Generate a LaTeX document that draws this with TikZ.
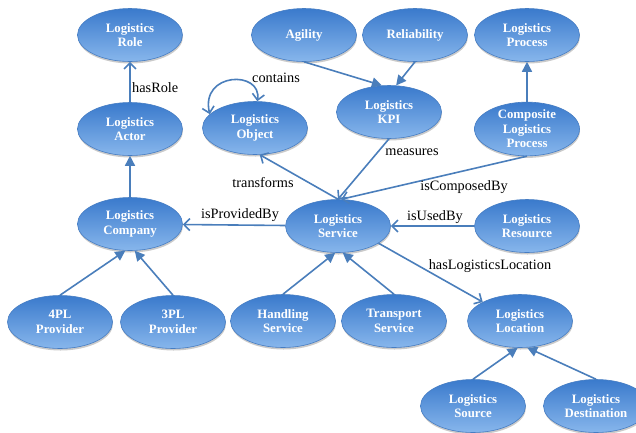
\documentclass[tikz,border=0pt]{standalone}
\usepackage{fontspec}
\setmainfont{Liberation Serif}
\usetikzlibrary{shapes.geometric,arrows.meta,shadows}
\definecolor{edgeblue}{RGB}{74,126,187}
\definecolor{topblue}{RGB}{58,122,204}
\definecolor{midblue}{RGB}{82,146,218}
\definecolor{botblue}{RGB}{135,182,236}
\definecolor{rimblue}{RGB}{70,125,195}
\tikzset{
  concept/.style={ellipse, minimum width=105pt, minimum height=53pt, inner sep=0pt,
    top color=topblue, middle color=midblue, bottom color=botblue,
    draw=rimblue, line width=0.6pt,
    drop shadow={shadow xshift=0.5pt, shadow yshift=-2pt, opacity=0.35, fill=black!60},
    text=white, align=center,
    font=\bfseries\fontsize{12.8}{14.5}\selectfont},
  lbl/.style={font=\fontsize{14.3}{16}\selectfont, text=black, inner sep=0pt},
  sub/.style={draw=edgeblue, line width=1.6pt, -{Triangle[length=10pt,width=10pt]}},
  prop/.style={draw=edgeblue, line width=1.6pt, -{Straight Barb[length=6pt,width=12pt]}},
  propboth/.style={draw=edgeblue, line width=1.6pt, {Straight Barb[length=6pt,width=12pt]}-{Straight Barb[length=6pt,width=12pt]}}
}
\begin{document}
\begin{tikzpicture}[x=1pt,y=-1pt]
\useasboundingbox (0,0) rectangle (636,432);
% nodes
\node[concept] (role) at (130,35) {Logistics\\Role};
\node[concept] (actor) at (130,129) {Logistics\\Actor};
\node[concept] (company) at (130,224) {Logistics\\Company};
\node[concept] (p4) at (60,322) {4PL\\Provider};
\node[concept] (p3) at (173,322) {3PL\\Provider};
\node[concept] (obj) at (255,128) {Logistics\\Object};
\node[concept] (agility) at (304,35) {Agility};
\node[concept] (rel) at (415,35) {Reliability};
\node[concept] (proc) at (527,35) {Logistics\\Process};
\node[concept] (kpi) at (389,112) {Logistics\\KPI};
\node[concept] (comp) at (527,129) {Composite\\Logistics\\Process};
\node[concept] (service) at (338,226) {Logistics\\Service};
\node[concept] (resource) at (527,226) {Logistics\\Resource};
\node[concept] (handling) at (283,321) {Handling\\Service};
\node[concept] (transport) at (394,321) {Transport\\Service};
\node[concept] (location) at (520,321) {Logistics\\Location};
\node[concept] (source) at (473,406) {Logistics\\Source};
\node[concept] (dest) at (596,406) {Logistics\\Destination};
% connectors
\draw[prop] (actor) -- (role);
\draw[sub] (company) -- (actor);
\draw[sub] (p4.north) -- (company.-100);
\draw[sub] (p3.north) -- (company.-80);
\draw[prop] (service) -- (company);
\draw[prop] (service.north) -- (obj.-80);
\draw[propboth] (obj.85) .. controls (262,70) and (200,72) .. (obj.163);
\draw[sub] (agility.south) -- (kpi.105);
\draw[sub] (rel.south) -- (kpi.75);
\draw[prop] (kpi.south) -- (service.north);
\draw[sub] (comp.north) -- (proc.south);
\draw[prop] (comp.south) -- (service.83);
\draw[prop] (resource.west) -- (service.east);
\draw[prop] (service.-23) -- (location.153);
\draw[sub] (handling.north) -- (service.-96);
\draw[sub] (transport.north) -- (service.-80);
\draw[sub] (source.north) -- (location.-95);
\draw[sub] (dest.north) -- (location.-75);
% labels
\node[lbl, anchor=west] (lhasrole) at (132,88) {hasRole};
\node[lbl] (lcontains) at (276,78) {contains};
\node[lbl] (ltransforms) at (263,183) {transforms};
\node[lbl] (lprovided) at (240,215) {isProvidedBy};
\node[lbl] (lmeasures) at (412,152) {measures};
\node[lbl] (lcomposed) at (464,187) {isComposedBy};
\node[lbl] (lused) at (435,217) {isUsedBy};
\node[lbl] (lloc) at (490,266) {hasLogisticsLocation};
\end{tikzpicture}
\end{document}
